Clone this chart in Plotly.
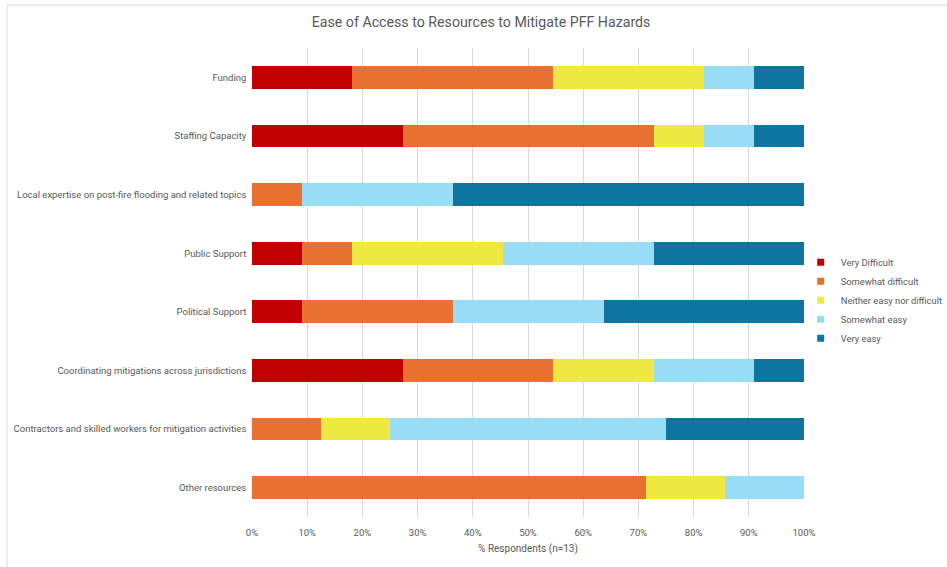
import plotly.graph_objects as go

categories = [
    "Funding",
    "Staffing Capacity",
    "Local expertise on post-fire flooding and related topics",
    "Public Support",
    "Political Support",
    "Coordinating mitigations across jurisdictions",
    "Contractors and skilled workers for mitigation activities",
    "Other resources",
]

series_names = ["Very Difficult", "Somewhat difficult", "Neither easy nor difficult",
                "Somewhat easy", "Very easy"]

very_difficult = [18.2, 27.3, 0, 9.1, 9.1, 27.3, 0, 0]
somewhat_difficult = [36.4, 45.5, 9.1, 9.1, 27.3, 27.3, 12.5, 71.4]
neither = [27.3, 9.1, 0, 27.3, 0, 18.2, 12.5, 14.3]
somewhat_easy = [9.1, 9.1, 27.3, 27.3, 27.3, 18.2, 50.0, 14.3]
very_easy = [9.1, 9.1, 63.6, 27.3, 36.4, 9.1, 25.0, 0]

values = [very_difficult, somewhat_difficult, neither, somewhat_easy, very_easy]
colors = ["#C00000", "#E97132", "#F0E842", "#99DCF6", "#0E75A0"]

tick_vals = [0, 10, 20, 30, 40, 50, 60, 70, 80, 90, 100]
tick_text = [f"{v}%" for v in tick_vals]

FONT = "Roboto, Arial, sans-serif"
GRAY = "#595959"

fig = go.Figure()
for name, vals, col in zip(series_names, values, colors):
    fig.add_trace(go.Bar(
        y=categories, x=vals, name=name, orientation="h",
        marker=dict(color=col, line=dict(width=0)),
        showlegend=False,
    ))
for name, col in zip(series_names, colors):
    fig.add_trace(go.Scatter(
        x=[None], y=[None], mode="markers", name=name,
        marker=dict(symbol="square", size=7, color=col),
        showlegend=True,
    ))

fig.update_layout(
    barmode="stack",
    bargap=0.61,
    width=947, height=567,
    margin=dict(l=252, r=143, t=48, b=50, autoexpand=False),
    paper_bgcolor="white",
    plot_bgcolor="white",
    font=dict(family=FONT, color=GRAY, size=9.5),
    title=dict(text="Ease of Access to Resources to Mitigate PFF Hazards",
               x=0.508, xref="container", y=0.961, yref="container",
               xanchor="center", yanchor="middle",
               font=dict(size=14.2, color=GRAY, family=FONT)),
    xaxis=dict(range=[0, 100], tickvals=tick_vals, ticktext=tick_text,
               showgrid=True, gridcolor="#D9D9D9", gridwidth=1,
               zeroline=False, showline=False, ticks="",
               ticklabelstandoff=8,
               tickfont=dict(size=9.5, color=GRAY),
               title=dict(text="% Respondents (n=13)", font=dict(size=10, color=GRAY),
                          standoff=8)),
    yaxis=dict(autorange="reversed", showgrid=False, zeroline=False, ticks="",
               ticksuffix="  ", tickfont=dict(size=9.5, color=GRAY)),
    legend=dict(x=0.994, y=0.574, xanchor="left", yanchor="top",
                font=dict(size=9.4, color=GRAY), tracegroupgap=0,
                traceorder="normal", itemwidth=30, bgcolor="rgba(0,0,0,0)"),
    shapes=[
        dict(type="line", xref="paper", yref="paper", x0=-0.4438, x1=1.3, y0=1.0917, y1=1.0917,
             line=dict(color="#E6E6E6", width=1.5)),
        dict(type="line", xref="paper", yref="paper", x0=-0.4438, x1=-0.4438, y0=1.0917, y1=-0.11,
             line=dict(color="#E6E6E6", width=1.5)),
    ],
)

fig.write_html("out.html")
